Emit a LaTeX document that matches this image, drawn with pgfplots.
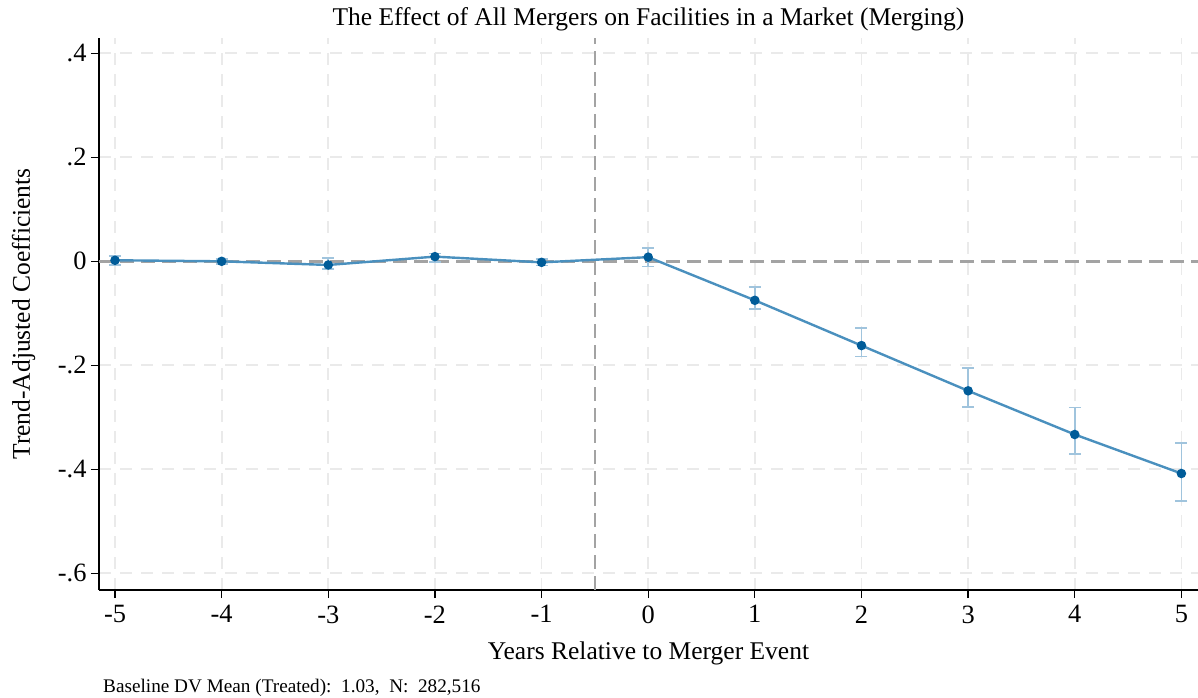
\documentclass[border=0pt]{standalone}
\usepackage{fontspec}
\setmainfont{Liberation Serif}
\usepackage{pgfplots}
\usepackage{pgfplotstable}
\pgfplotsset{compat=1.18}
\definecolor{lineblue}{HTML}{4A90BE}
\definecolor{dotblue}{HTML}{005C99}
\definecolor{errblue}{HTML}{A0C4DD}
\definecolor{gridgray}{HTML}{EAEAEA}
\definecolor{refgray}{HTML}{A3A3A3}

% event-study coefficients: x, estimate, CI distance above (ep) and below (em)
\pgfplotstableread{
x   y       ep     em
-5  0.002   0.008  0.009
-4  0.000   0.005  0.005
-3  -0.007  0.014  0.008
-2  0.009   0.006  0.010
-1  -0.002  0.006  0.006
0   0.008   0.017  0.018
1   -0.075  0.025  0.016
2   -0.162  0.034  0.021
3   -0.249  0.044  0.031
4   -0.333  0.052  0.038
5   -0.408  0.059  0.053
}\coefs

\begin{document}
\begin{tikzpicture}
\useasboundingbox (0,0) rectangle (1198bp,698bp);
\begin{axis}[
  at={(99bp,108bp)},anchor=south west,
  width=1099bp,height=552bp,scale only axis,
  xmin=-5.15,xmax=5.155,ymin=-0.632,ymax=0.4294,
  axis x line*=bottom,axis y line*=left,
  axis line style={line width=1.3bp,black,-},
  xtick={-5,-4,...,5},
  xticklabels={-5,-4,-3,-2,-1,0,1,2,3,4,5},
  ytick={-0.6,-0.4,-0.2,0,0.2,0.4},
  yticklabels={-.6,-.4,-.2,0,.2,.4},
  tick align=outside,major tick length=8bp,
  tick style={line width=1.3bp,black},
  tick label style={font=\fontsize{26.5}{30}\selectfont},
  xticklabel style={yshift=-4bp},
  yticklabel style={xshift=-1bp},
  grid=major,
  major grid style={gridgray,line width=1.8bp,dash pattern=on 12bp off 9bp},
  title={The Effect of All Mergers on Facilities in a Market (Merging)},
  title style={at={(axis description cs:0.5,1.0127)},anchor=base,font=\fontsize{25.6}{30}\selectfont},
  xlabel={Years Relative to Merger Event},
  xlabel style={at={(axis description cs:0.5,-0.1250)},anchor=base,font=\fontsize{25.6}{30}\selectfont},
  ylabel={Trend-Adjusted Coefficients},
  ylabel style={at={(axis description cs:-0.0628,0.5)},anchor=base,font=\fontsize{25.6}{30}\selectfont},
  clip=false]
  \draw[refgray,line width=2.5bp,dash pattern=on 14bp off 7bp] (axis cs:-0.5,-0.632)--(axis cs:-0.5,0.4294);
  \draw[refgray,line width=2.5bp,dash pattern=on 14bp off 7bp] (axis cs:-5.15,0)--(axis cs:5.155,0);
  \addplot[forget plot,only marks,mark=none,
    error bars/.cd,y dir=both,y explicit,
    error bar style={errblue,line width=1.8bp},
    error mark options={errblue,rotate=90,mark size=6bp,line width=1.8bp}]
    table[x=x,y=y,y error plus=ep,y error minus=em]{\coefs};
  \addplot[lineblue,line width=2.4bp,mark=*,mark size=3.5bp,
    mark options={dotblue,fill=dotblue,draw=dotblue}]
    table[x=x,y=y]{\coefs};
\end{axis}
\node[anchor=base west,font=\fontsize{19.3}{23}\selectfont,inner sep=0pt] at (103bp,6bp)
  {Baseline DV Mean (Treated):\ \ 1.03,\ \ N:\ \ 282,516};
\end{tikzpicture}
\end{document}
